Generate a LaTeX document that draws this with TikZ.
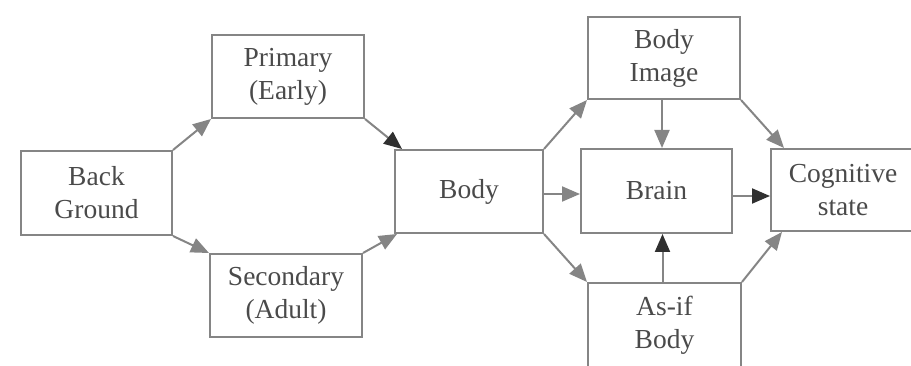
\documentclass[tikz,border=0pt]{standalone}
\usepackage{fontspec}
\setmainfont{Liberation Serif}
\usetikzlibrary{arrows.meta}
\definecolor{linegray}{HTML}{858585}
\definecolor{textgray}{HTML}{4A4A4A}
\definecolor{tipdark}{HTML}{303030}
\begin{document}
\begin{tikzpicture}[x=1pt,y=-1pt,
  box/.style={draw=linegray,line width=2pt,rectangle,inner sep=0pt,align=center,
    text=textgray,font=\fontsize{27.5}{33}\selectfont},
  conn/.style={draw=linegray,line width=2pt,-{Triangle[length=18pt,width=15pt]}},
  connd/.style={draw=linegray,line width=2pt,-{Triangle[length=18pt,width=15pt,color=tipdark]}}]
\useasboundingbox (0,0) rectangle (911,366);
\node[box,minimum width=151pt,minimum height=84pt] (bg) at (96.5,193) {Back\\Ground};
\node[box,minimum width=152pt,minimum height=83pt] (pri) at (288,76.5) {Primary\\(Early)};
\node[box,minimum width=152pt,minimum height=83pt] (sec) at (286,295.5) {Secondary\\(Adult)};
\node[box,minimum width=148pt,minimum height=83pt] (body) at (469,191.5) {Body};
\node[box,minimum width=152pt,minimum height=82pt] (img) at (664,58) {Body\\Image};
\node[box,minimum width=151pt,minimum height=84pt] (brain) at (656.5,191) {Brain};
\node[box,minimum width=144pt,minimum height=82pt] (cog) at (843,190) {Cognitive\\state};
\node[box,minimum width=153pt,minimum height=84pt] (asif) at (664.5,325) {As-if\\Body};
\coordinate (ya) at (0,194);
\coordinate (yb) at (0,196);
\draw[conn] (bg.north east) -- (pri.south west);
\draw[conn] (bg.south east) -- (sec.north west);
\draw[connd] (pri.south east) -- ([xshift=8pt]body.north west);
\draw[conn] (sec.north east) -- ([xshift=3pt]body.south west);
\draw[conn] (body.north east) -- (img.south west);
\draw[conn] (body.east |- ya) -- (brain.west |- ya);
\draw[conn] (body.south east) -- (asif.north west);
\draw[conn] ([xshift=-2pt]img.south) -- ([xshift=-2pt]img.south |- brain.north);
\draw[connd] ([xshift=-2pt]asif.north) -- ([xshift=-2pt]asif.north |- brain.south);
\draw[connd] (brain.east |- yb) -- (cog.west |- yb);
\draw[conn] (img.south east) -- ([xshift=14pt]cog.north west);
\draw[conn] (asif.north east) -- ([xshift=12pt]cog.south west);
\end{tikzpicture}
\end{document}
